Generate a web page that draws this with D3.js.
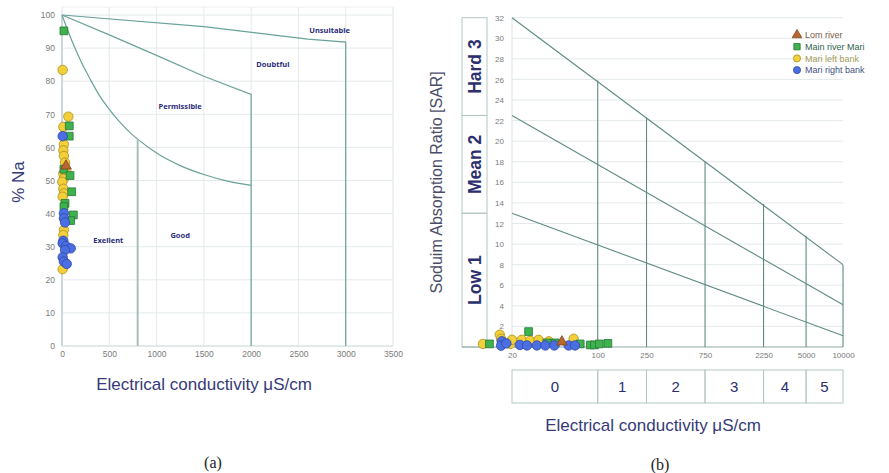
<!DOCTYPE html>
<html>
<head>
<meta charset="utf-8">
<script src="https://cdn.jsdelivr.net/npm/d3@7"></script>
<style>
  body { margin: 0; background: #fff; }
  svg { display: block; font-family: "Liberation Sans", Arial, sans-serif; }
</style>
</head>
<body>
<svg id="chart" width="889" height="473"></svg>
<script>
// ---- panel (a): %Na vs EC (Wilcox) ----
const naTicksX = [0, 500, 1000, 1500, 2000, 2500, 3000, 3500];
const naTicksY = [0, 10, 20, 30, 40, 50, 60, 70, 80, 90, 100];

// zone boundaries [EC, %Na]
const unsuitableLine = [[0, 100], [1500, 96.5], [2600, 92.7], [3000, 91.8], [3000, 0]];
const doubtfulLine = [[0, 100], [500, 94], [1000, 87.8], [1500, 81.5], [2000, 76], [2000, 0]];
const permissibleCurve = [[0, 100], [100, 92.5], [200, 86], [300, 80.5], [400, 75.5], [500, 71.5],
  [600, 68], [700, 65], [800, 62.5], [1000, 58.3], [1250, 54.5], [1500, 51.8], [1750, 49.8], [2000, 48.5]];
const goodLine = [[800, 62.5], [800, 0]];

const zoneLabels = [
  { text: 'Unsuitable', ec: 2830, na: 95.5 },
  { text: 'Doubtful', ec: 2230, na: 85 },
  { text: 'Permissible', ec: 1250, na: 72.5 },
  { text: 'Good', ec: 1250, na: 33.5 },
  { text: 'Exellent', ec: 490, na: 32 }
];

// samples [EC, %Na]
const naLom = [[42, 54.4]];
const naMain = [[20, 95.2], [77, 66.5], [77, 63.4], [20, 53.4], [85, 51.5], [103, 46.6],
  [32, 43.1], [20, 42.1], [120, 39.6], [92, 37.9]];
const naLeft = [[7, 83.4], [67, 69.3], [14, 66.2], [20, 60.9], [14, 59.1], [20, 57.4], [32, 55.4],
  [14, 52.1], [50, 52.4], [20, 50.5], [3, 49.6], [14, 47.5], [20, 46.1], [7, 45.1], [20, 35.1],
  [14, 33.5], [7, 23.2]];
const naRight = [[7, 63.4], [20, 40.1], [20, 38.6], [32, 37.3], [14, 31.8], [7, 31], [42, 30.2],
  [92, 29.5], [32, 29], [7, 26.8], [20, 25.5], [50, 24.8]];

// ---- panel (b): SAR vs EC (USSL) ----
const sarTicksX = [20, 100, 250, 750, 2250, 5000, 10000];
const sarTicksY = [2, 4, 6, 8, 10, 12, 14, 16, 18, 20, 22, 24, 26, 28, 30, 32];
const sarLines = [
  [[20, 32], [10000, 8]],
  [[20, 22.5], [10000, 4.1]],
  [[20, 13], [10000, 1.1]]
];
const sarVerticals = [[100, 25.9], [250, 22.3], [750, 18], [2250, 13.9], [5000, 10.8], [10000, 8]];
const sodiumClasses = [
  { label: 'Low 1', from: 0, to: 13 },
  { label: 'Mean 2', from: 13, to: 22.5 },
  { label: 'Hard 3', from: 22.5, to: 32 }
];
const salinityBounds = [20, 100, 250, 750, 2250, 5000, 10000];
const salinityLabels = ['0', '1', '2', '3', '4', '5'];

// samples [EC, SAR]
const sarLom = [[51, 0.5]];
const sarMain = [[13.1, 0.3], [27.3, 1.5], [38.6, 0.4], [45, 0.4], [72, 0.3], [87, 0.2],
  [94, 0.2], [103, 0.3], [121, 0.35]];
const sarLeft = [[11.6, 0.3], [15.9, 1.2], [16.3, 0.8], [19.4, 0.3], [20, 0.7], [24, 0.7],
  [28.1, 0.6], [32.9, 0.7], [39.9, 0.55], [63.6, 0.8]];
const sarRight = [[16.5, 0.55], [16.3, 0.13], [18, 0.35], [23.2, 0.2], [26.5, 0.15], [31.9, 0.15],
  [37.4, 0.15], [44.3, 0.15], [57.9, 0.15], [65.3, 0.15]];

const seriesNames = ['Lom river', 'Main river Mari', 'Mari left bank', 'Mari right bank'];

const styles = {
  'Lom river': { shape: d3.symbolTriangle, fill: '#b9662f', stroke: '#7c4322', text: '#7a5a48' },
  'Main river Mari': { shape: d3.symbolSquare, fill: '#3fb24c', stroke: '#25763a', text: '#2f5f4a' },
  'Mari left bank': { shape: d3.symbolCircle, fill: '#f3cf3a', stroke: '#a98f1e', text: '#a29a58' },
  'Mari right bank': { shape: d3.symbolCircle, fill: '#4b6fe2', stroke: '#2d48a6', text: '#3f4f82' }
};

const svg = d3.select('#chart');
const gridColor = '#e4eaea';
const titleColor = '#363a78';

function drawPoints(g, data, name, x, y, size) {
  const st = styles[name];
  g.selectAll(null)
    .data(data)
    .enter().append('path')
    .attr('d', d3.symbol().type(st.shape).size(size))
    .attr('transform', d => `translate(${x(d[0])},${y(d[1])})`)
    .attr('fill', st.fill)
    .attr('stroke', st.stroke)
    .attr('stroke-width', 0.8);
}

function styleTicks(g, size) {
  g.select('.domain').remove();
  g.selectAll('text').attr('fill', '#7a7a7a').attr('font-size', size);
}

// ================= panel (a) =================
const xA = d3.scaleLinear().domain([0, 3500]).range([62, 393]);
const yA = d3.scaleLinear().domain([0, 100]).range([346, 15]);
const gA = svg.append('g');

gA.append('rect')
  .attr('x', xA(0)).attr('y', 7)
  .attr('width', xA(3500) - xA(0)).attr('height', yA(0) - 7)
  .attr('fill', 'none').attr('stroke', '#eef2f2');

gA.append('g').selectAll('line')
  .data(naTicksX)
  .enter().append('line')
  .attr('x1', d => xA(d)).attr('x2', d => xA(d))
  .attr('y1', 7).attr('y2', yA(0))
  .attr('stroke', gridColor);

gA.append('g').selectAll('line')
  .data(naTicksY)
  .enter().append('line')
  .attr('x1', xA(0)).attr('x2', xA(3500))
  .attr('y1', d => yA(d)).attr('y2', d => yA(d))
  .attr('stroke', gridColor);

// axis lines
gA.append('line')
  .attr('x1', xA(0)).attr('x2', xA(0)).attr('y1', yA(100)).attr('y2', yA(0))
  .attr('stroke', '#cbd9dc').attr('stroke-width', 2);
gA.append('line')
  .attr('x1', xA(0)).attr('x2', xA(3500)).attr('y1', yA(0)).attr('y2', yA(0))
  .attr('stroke', '#dde6e6').attr('stroke-width', 1.5);

styleTicks(gA.append('g')
  .attr('transform', `translate(0,${yA(0)})`)
  .call(d3.axisBottom(xA).tickValues(naTicksX).tickFormat(d3.format('d')).tickSize(0).tickPadding(5)), 8.5);
styleTicks(gA.append('g')
  .attr('transform', `translate(${xA(0)},0)`)
  .call(d3.axisLeft(yA).tickValues(naTicksY).tickSize(0).tickPadding(7)), 8.5);

const lineA = d3.line().x(d => xA(d[0])).y(d => yA(d[1]));
const curveA = d3.line().x(d => xA(d[0])).y(d => yA(d[1])).curve(d3.curveMonotoneX);
const zoneColor = '#6aa29a';
[unsuitableLine, doubtfulLine].forEach(pts => {
  gA.append('path').attr('d', lineA(pts))
    .attr('fill', 'none').attr('stroke', zoneColor).attr('stroke-width', 1.2);
});
gA.append('path').attr('d', curveA(permissibleCurve))
  .attr('fill', 'none').attr('stroke', zoneColor).attr('stroke-width', 1.2);
gA.append('path').attr('d', lineA(goodLine))
  .attr('fill', 'none').attr('stroke', '#a9bfbc').attr('stroke-width', 2);

gA.append('g').selectAll('text')
  .data(zoneLabels)
  .enter().append('text')
  .attr('x', d => xA(d.ec)).attr('y', d => yA(d.na))
  .attr('text-anchor', 'middle').attr('dy', '0.35em')
  .attr('font-family', '"Noto Sans", sans-serif')
  .attr('font-size', 7.5).attr('font-weight', 'bold')
  .attr('fill', '#2c2c78')
  .text(d => d.text);

const ptsA = gA.append('g');
drawPoints(ptsA, naLeft, 'Mari left bank', xA, yA, 70);
drawPoints(ptsA, naMain, 'Main river Mari', xA, yA, 60);
drawPoints(ptsA, naRight, 'Mari right bank', xA, yA, 70);
drawPoints(ptsA, naLom, 'Lom river', xA, yA, 50);

gA.append('text')
  .attr('transform', 'translate(24,182) rotate(-90)')
  .attr('text-anchor', 'middle')
  .attr('font-size', 17).attr('fill', titleColor)
  .text('% Na');
gA.append('text')
  .attr('x', 204).attr('y', 390)
  .attr('text-anchor', 'middle')
  .attr('font-size', 17).attr('fill', titleColor)
  .text('Electrical conductivity μS/cm');
gA.append('text')
  .attr('x', 213).attr('y', 468)
  .attr('text-anchor', 'middle')
  .attr('font-family', '"Liberation Serif", "DejaVu Serif", serif')
  .attr('font-size', 16).attr('fill', '#222')
  .text('(a)');

// ================= panel (b) =================
const xB = d3.scaleLog().domain([20, 10000]).range([512, 843]);
const yB = d3.scaleLinear().domain([0, 32]).range([347, 17.7]);
const gB = svg.append('g');

gB.append('g').selectAll('line')
  .data(sarTicksY)
  .enter().append('line')
  .attr('x1', xB(20)).attr('x2', xB(10000))
  .attr('y1', d => yB(d)).attr('y2', d => yB(d))
  .attr('stroke', gridColor);
gB.append('line')
  .attr('x1', xB(20)).attr('x2', xB(20)).attr('y1', yB(32)).attr('y2', yB(0))
  .attr('stroke', '#dbe4e4');

styleTicks(gB.append('g')
  .attr('transform', `translate(0,${yB(0)})`)
  .call(d3.axisBottom(xB).tickValues(sarTicksX).tickFormat(d3.format('d')).tickSize(0).tickPadding(5)), 8);
styleTicks(gB.append('g')
  .attr('transform', `translate(${xB(20)},0)`)
  .call(d3.axisLeft(yB).tickValues(sarTicksY).tickSize(0).tickPadding(8)), 8);

// sodium hazard column
const colX0 = 462, colX1 = 487;
const boxColor = '#b3c7c4';
const colG = gB.append('g');
colG.selectAll('rect')
  .data(sodiumClasses)
  .enter().append('rect')
  .attr('x', colX0).attr('width', colX1 - colX0)
  .attr('y', d => yB(d.to)).attr('height', d => yB(d.from) - yB(d.to))
  .attr('fill', 'none').attr('stroke', boxColor);
colG.selectAll('text')
  .data(sodiumClasses)
  .enter().append('text')
  .attr('transform', d => `translate(${(colX0 + colX1) / 2 + 6},${(yB(d.from) + yB(d.to)) / 2}) rotate(-90)`)
  .attr('text-anchor', 'middle')
  .attr('font-size', 17.5).attr('font-weight', 'bold')
  .attr('fill', '#2b2f6e')
  .text(d => d.label);

// x axis base line
gB.append('line')
  .attr('x1', colX0).attr('x2', xB(10000)).attr('y1', yB(0)).attr('y2', yB(0))
  .attr('stroke', '#8fa9a6').attr('stroke-width', 1.2);

const lineB = d3.line().x(d => xB(d[0])).y(d => yB(d[1]));
const hazardColor = '#5f8a84';
sarLines.forEach(pts => {
  gB.append('path').attr('d', lineB(pts))
    .attr('fill', 'none').attr('stroke', hazardColor).attr('stroke-width', 1.1);
});
gB.append('g').selectAll('line')
  .data(sarVerticals)
  .enter().append('line')
  .attr('x1', d => xB(d[0])).attr('x2', d => xB(d[0]))
  .attr('y1', d => yB(d[1])).attr('y2', yB(0))
  .attr('stroke', hazardColor).attr('stroke-width', 1.1);

const ptsB = gB.append('g');
drawPoints(ptsB, sarLeft, 'Mari left bank', xB, yB, 70);
drawPoints(ptsB, sarMain, 'Main river Mari', xB, yB, 60);
drawPoints(ptsB, sarRight, 'Mari right bank', xB, yB, 70);
drawPoints(ptsB, sarLom, 'Lom river', xB, yB, 50);

// salinity class strip
const stripY0 = 370, stripY1 = 403;
const strips = salinityLabels.map((l, i) => ({ label: l, from: salinityBounds[i], to: salinityBounds[i + 1] }));
const stripG = gB.append('g');
stripG.selectAll('rect')
  .data(strips)
  .enter().append('rect')
  .attr('x', d => xB(d.from)).attr('width', d => xB(d.to) - xB(d.from))
  .attr('y', stripY0).attr('height', stripY1 - stripY0)
  .attr('fill', 'none').attr('stroke', boxColor);
stripG.selectAll('text')
  .data(strips)
  .enter().append('text')
  .attr('x', d => (xB(d.from) + xB(d.to)) / 2).attr('y', (stripY0 + stripY1) / 2)
  .attr('dy', '0.36em').attr('text-anchor', 'middle')
  .attr('font-size', 15).attr('fill', '#2b2f6e')
  .text(d => d.label);

// legend
const legend = gB.append('g').attr('transform', 'translate(797,35)');
const legendItems = legend.selectAll('g')
  .data(seriesNames)
  .enter().append('g')
  .attr('transform', (d, i) => `translate(0,${i * 11.7})`);
legendItems.append('path')
  .attr('d', d => d3.symbol().type(styles[d].shape).size(40)())
  .attr('fill', d => styles[d].fill)
  .attr('stroke', d => styles[d].stroke)
  .attr('stroke-width', 0.8);
legendItems.append('text')
  .attr('x', 8).attr('dy', '0.35em')
  .attr('font-size', 9).attr('fill', d => styles[d].text)
  .text(d => d);

gB.append('text')
  .attr('transform', `translate(442,${(yB(0) + yB(32)) / 2}) rotate(-90)`)
  .attr('text-anchor', 'middle')
  .attr('font-size', 16).attr('fill', '#4a4d68')
  .text('Soduim Absorption Ratio [SAR]');
gB.append('text')
  .attr('x', 653).attr('y', 431)
  .attr('text-anchor', 'middle')
  .attr('font-size', 17).attr('fill', titleColor)
  .text('Electrical conductivity μS/cm');
gB.append('text')
  .attr('x', 660).attr('y', 470)
  .attr('text-anchor', 'middle')
  .attr('font-family', '"Liberation Serif", "DejaVu Serif", serif')
  .attr('font-size', 16).attr('fill', '#222')
  .text('(b)');
</script>
</body>
</html>
